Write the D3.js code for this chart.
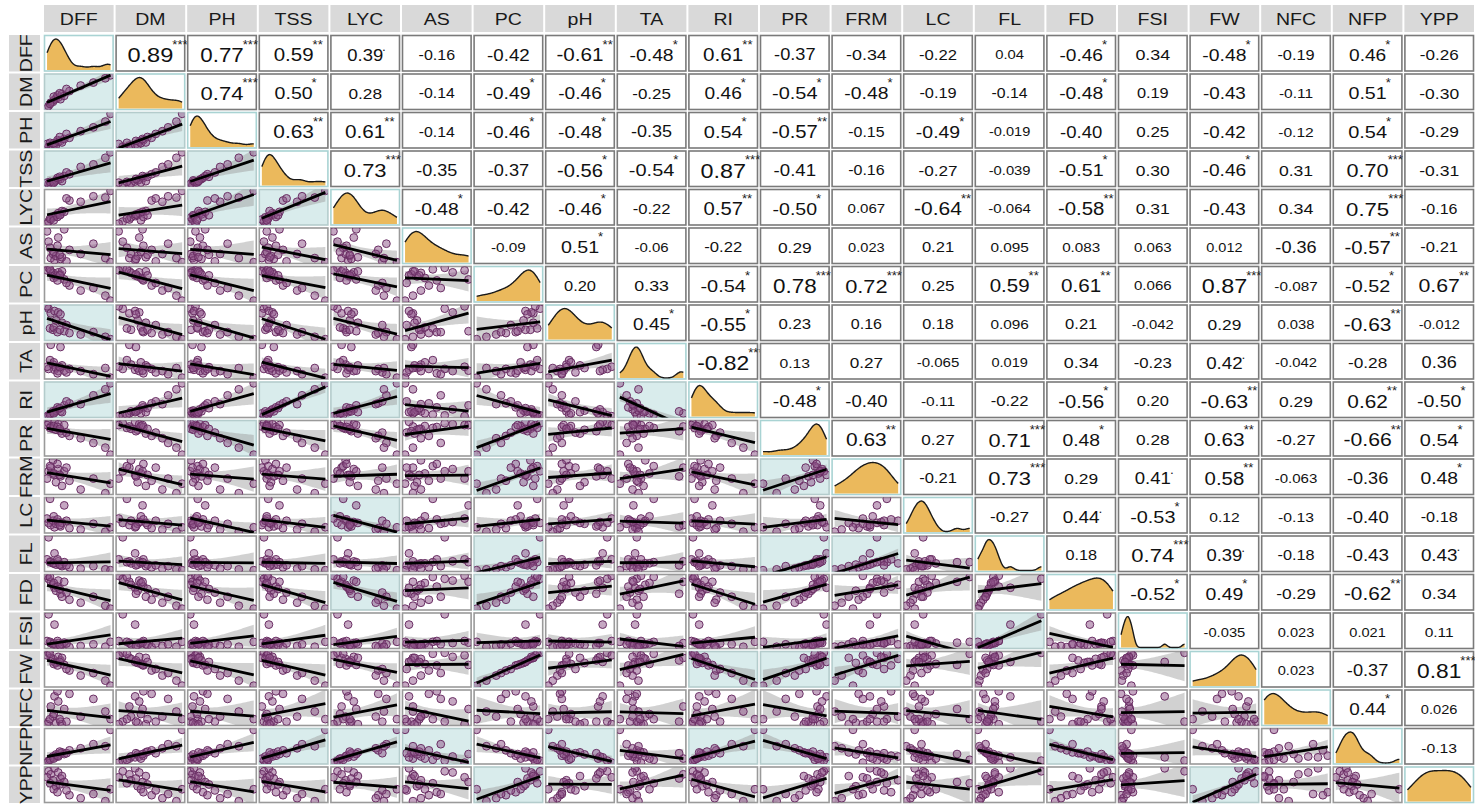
<!DOCTYPE html>
<html><head><meta charset="utf-8">
<script src="https://cdn.jsdelivr.net/npm/d3@7"></script>
<style>body{margin:0;background:#fff}svg{display:block}</style>
</head><body><svg id="c" width="1475" height="804"></svg>
<script>
// ---------- DATA ----------
const vars = ["DFF","DM","PH","TSS","LYC","AS","PC","pH","TA","RI","PR","FRM","LC","FL","FD","FSI","FW","NFC","NFP","YPP"];

// observations (relative units, estimated from the scatter panels / densities)
const DFF = [12,15,10,18,20,14,22,25,19,28,24,30,33,27,40,36,55,72,88,95];
const DM  = [20,28,15,30,35,25,38,40,42,36,45,48,44,50,55,60,68,75,85,92];
const PH  = [5,8,12,6,10,15,9,18,14,20,22,16,25,30,28,38,45,55,70,90];
const TSS = [8,5,12,10,15,14,18,20,12,22,25,16,30,28,35,40,55,62,80,95];
const LYC = [15,20,10,25,28,22,30,35,18,32,26,40,38,30,65,70,62,75,72,88];
const AS  = [60,20,85,30,15,45,25,70,35,18,50,22,90,28,40,12,30,55,20,10];
const PC  = [95,88,90,85,80,92,78,86,75,82,70,88,72,80,60,65,50,55,40,30];
const pH  = [80,70,85,35,75,38,55,72,40,68,30,50,32,35,28,45,25,30,20,15];
const TA  = [40,95,45,50,38,60,42,35,55,90,30,48,36,44,40,32,35,28,42,20];
const RI  = [10,15,8,20,18,12,22,25,15,20,30,18,35,28,40,45,38,60,75,90];
const PR  = [92,85,88,80,95,82,78,90,86,75,84,70,88,80,65,72,60,50,40,25];
const FRM = [55,60,45,70,50,62,40,58,52,48,65,35,55,50,42,60,30,45,25,38];
const LC  = [30,25,40,35,20,85,28,32,45,22,38,30,70,25,18,35,15,28,10,20];
const FL  = [90,30,35,25,50,28,22,30,25,20,35,18,28,22,15,20,12,18,10,8];
const FD  = [75,70,80,65,60,78,55,72,68,50,62,45,70,58,40,52,35,45,30,25];
const FSI = [85,15,20,12,60,18,10,15,14,8,20,12,16,10,5,14,8,12,6,18];
const FW  = [90,80,85,78,72,88,70,82,68,75,65,80,66,72,55,58,45,50,35,25];
const NFC = [30,60,25,40,80,35,28,70,45,30,90,25,55,35,85,30,40,75,50,35];
const NFP = [20,25,15,30,28,22,35,30,25,38,32,40,36,42,45,38,50,60,55,95];
const YPP = [80,75,70,65,85,60,55,78,50,68,45,72,62,58,40,48,35,42,30,50];

// correlations, upper triangle: row variable vs each following column
const corDFF = [0.89,0.77,0.59,0.39,-0.16,-0.42,-0.61,-0.48,0.61,-0.37,-0.34,-0.22,0.04,-0.46,0.34,-0.48,-0.19,0.46,-0.26];
const corDM  = [0.74,0.50,0.28,-0.14,-0.49,-0.46,-0.25,0.46,-0.54,-0.48,-0.19,-0.14,-0.48,0.19,-0.43,-0.11,0.51,-0.30];
const corPH  = [0.63,0.61,-0.14,-0.46,-0.48,-0.35,0.54,-0.57,-0.15,-0.49,-0.019,-0.40,0.25,-0.42,-0.12,0.54,-0.29];
const corTSS = [0.73,-0.35,-0.37,-0.56,-0.54,0.87,-0.41,-0.16,-0.27,-0.039,-0.51,0.30,-0.46,0.31,0.70,-0.31];
const corLYC = [-0.48,-0.42,-0.46,-0.22,0.57,-0.50,0.067,-0.64,-0.064,-0.58,0.31,-0.43,0.34,0.75,-0.16];
const corAS  = [-0.09,0.51,-0.06,-0.22,0.29,0.023,0.21,0.095,0.083,0.063,0.012,-0.36,-0.57,-0.21];
const corPC  = [0.20,0.33,-0.54,0.78,0.72,0.25,0.59,0.61,0.066,0.87,-0.087,-0.52,0.67];
const corpH  = [0.45,-0.55,0.23,0.16,0.18,0.096,0.21,-0.042,0.29,0.038,-0.63,-0.012];
const corTA  = [-0.82,0.13,0.27,-0.065,0.019,0.34,-0.23,0.42,-0.042,-0.28,0.36];
const corRI  = [-0.48,-0.40,-0.11,-0.22,-0.56,0.20,-0.63,0.29,0.62,-0.50];
const corPR  = [0.63,0.27,0.71,0.48,0.28,0.63,-0.27,-0.66,0.54];
const corFRM = [-0.21,0.73,0.29,0.41,0.58,-0.063,-0.36,0.48];
const corLC  = [-0.27,0.44,-0.53,0.12,-0.13,-0.40,-0.18];
const corFL  = [0.18,0.74,0.39,-0.18,-0.43,0.43];
const corFD  = [-0.52,0.49,-0.29,-0.62,0.34];
const corFSI = [-0.035,0.023,0.021,0.11];
const corFW  = [0.023,-0.37,0.81];
const corNFC = [0.44,0.026];
const corNFP = [-0.13];

// significance marks
const sigDFF = ["***","***","**",".","","","**","*","**","","","","","*","","*","","*",""];
const sigDM  = ["***","*","","","*","*","","*","*","*","","","*","","","","*",""];
const sigPH  = ["**","**","","*","*","","*","**","","*","","","","","","*",""];
const sigTSS = ["***","","","*","*","***","","","","","*","","*","","***",""];
const sigLYC = ["*","","*","","**","*","","**","","**","","","","***",""];
const sigAS  = ["","*","","","","","","","","","","","**",""];
const sigPC  = ["","","*","***","***","","**","**","","***","","*","**"];
const sigpH  = ["*","*","","","","","","","","","**",""];
const sigTA  = ["***","","","","","","",".","","",""];
const sigRI  = ["*","","","","*","","**","","**","*"];
const sigPR  = ["**","","***","*","","**","","**","*"];
const sigFRM = ["","***","",".","**","","","*"];
const sigLC  = ["",".","*","","","",""];
const sigFL  = ["","***",".","","","."];
const sigFD  = ["*","*","","**",""];
const sigFSI = ["","","",""];
const sigFW  = ["","","***"];
const sigNFC = ["*",""];
const sigNFP = [""];

// ---------- BUILD ----------
const obs = {DFF,DM,PH,TSS,LYC,AS,PC,pH,TA,RI,PR,FRM,LC,FL,FD,FSI,FW,NFC,NFP,YPP};
const corRows = [corDFF,corDM,corPH,corTSS,corLYC,corAS,corPC,corpH,corTA,corRI,corPR,corFRM,corLC,corFL,corFD,corFSI,corFW,corNFC,corNFP];
const sigRows = [sigDFF,sigDM,sigPH,sigTSS,sigLYC,sigAS,sigPC,sigpH,sigTA,sigRI,sigPR,sigFRM,sigLC,sigFL,sigFD,sigFSI,sigFW,sigNFC,sigNFP];
function pair(i,j){ if(i>j){const t=i;i=j;j=t;} return {r:corRows[i][j-i-1], s:sigRows[i][j-i-1]}; }
function fmt(r){ let s=r.toPrecision(2); if(Math.abs(r)<0.1) s=String(+s); return s; }

const W=1475,H=804, N=vars.length;
const gx0=43, gy0=34, cw=(W-gx0)/N, rh=(H-gy0)/N;
const svg=d3.select("#c");
const FONT="'Liberation Sans', Arial, sans-serif";
const SX=1.15; // horizontal stretch of the text in the picture

// strips
vars.forEach((v,j)=>{
  const x=gx0+j*cw+1;
  svg.append("rect").attr("x",x).attr("y",5).attr("width",cw-2).attr("height",27).attr("fill","#d9d9d9");
  svg.append("text").attr("transform",`translate(${x+(cw-2)/2},${24.5}) scale(${SX},1)`)
    .attr("text-anchor","middle").attr("font-family",FONT).attr("font-size",17).attr("fill","#1a1a1a").text(v);
});
vars.forEach((v,i)=>{
  const y=gy0+i*rh+1;
  svg.append("rect").attr("x",9).attr("y",y).attr("width",31).attr("height",rh-2).attr("fill","#d9d9d9");
  svg.append("text").attr("transform",`translate(${31.5},${y+(rh-2)/2}) rotate(-90) scale(${SX},1)`)
    .attr("text-anchor","middle").attr("font-family",FONT).attr("font-size",17).attr("fill","#1a1a1a").text(v);
});

const defs=svg.append("defs");
const stats={};
vars.forEach(v=>{const a=obs[v]; stats[v]={mean:d3.mean(a), sd:d3.deviation(a), min:d3.min(a), max:d3.max(a)};});
const n=DFF.length, tcrit=2.101;

function xs(v,x,w){const s=stats[v],e=(s.max-s.min)*0.04;return d3.scaleLinear().domain([s.min-e,s.max+e]).range([x,x+w]);}
function ys(v,y,h){const s=stats[v],e=(s.max-s.min)*0.04;return d3.scaleLinear().domain([s.min-e,s.max+e]).range([y+h,y]);}

for(let i=0;i<N;i++){
  for(let j=0;j<N;j++){
    const x=gx0+j*cw+1.5, y=gy0+i*rh+1.5, w=cw-3, h=rh-3;
    const g=svg.append("g");
    const cid=`cp${i}_${j}`;
    defs.append("clipPath").attr("id",cid).append("rect").attr("x",x).attr("y",y).attr("width",w).attr("height",h);
    if(i<j){
      const {r,s}=pair(i,j);
      g.append("rect").attr("x",x).attr("y",y).attr("width",w).attr("height",h).attr("fill","#fff").attr("stroke","#7a7a7a").attr("stroke-width",1.6);
      const fs=12.5+9*Math.abs(r);
      const cx=x+w/2, cy=y+h/2+fs*0.36+1.5;
      const t=g.append("text").attr("transform",`translate(${cx},${cy}) scale(${SX},1)`).attr("text-anchor","middle")
        .attr("font-family",FONT).attr("font-size",fs).attr("fill","#111").text(fmt(r));
      const tw=t.node().getComputedTextLength()*SX;
      if(s){
        const isDot=s===".";
        const by=isDot? cy-0.716*fs+2 : y+13;
        g.append("text").attr("transform",`translate(${cx+tw/2-1},${by}) scale(1.05,1)`)
          .attr("text-anchor","start").attr("font-family",FONT).attr("font-size",isDot?13:12.5).attr("fill","#222").text(s);
      }
    } else if(i===j){
      const v=vars[i], a=obs[v], st=stats[v];
      g.append("rect").attr("x",x).attr("y",y).attr("width",w).attr("height",h).attr("fill","#fff").attr("stroke","#a9d3d3").attr("stroke-width",1.6);
      const sorted=a.slice().sort(d3.ascending);
      const iqr=d3.quantile(sorted,0.75)-d3.quantile(sorted,0.25);
      const bw=0.9*Math.min(st.sd, iqr/1.34)*Math.pow(n,-0.2);
      const grid=d3.range(0,101).map(k=>st.min+(st.max-st.min)*k/100);
      const dens=grid.map(g0=>[g0, d3.mean(a,d=>Math.exp(-0.5*((g0-d)/bw)**2))/(bw*Math.sqrt(2*Math.PI))]);
      const X=xs(v,x,w);
      const Y=d3.scaleLinear().domain([0,d3.max(dens,d=>d[1])*1.05]).range([y+h-1,y+2]);
      g.append("path").attr("clip-path",`url(#${cid})`).datum(dens).attr("fill","#ebb95c")
        .attr("d",d3.area().x(d=>X(d[0])).y0(y+h-1).y1(d=>Y(d[1])).curve(d3.curveBasis));
      g.append("path").attr("clip-path",`url(#${cid})`).datum(dens).attr("fill","none").attr("stroke","#1a1a1a").attr("stroke-width",1.4)
        .attr("d",d3.line().x(d=>X(d[0])).y(d=>Y(d[1])).curve(d3.curveBasis));
    } else {
      const vx=vars[j], vy=vars[i];
      const {r,s}=pair(i,j);
      const teal=s.indexOf("**")>=0;
      g.append("rect").attr("x",x).attr("y",y).attr("width",w).attr("height",h)
        .attr("fill",teal?"#d9ecec":"#fff").attr("stroke",teal?"#b4cccc":"#9a9a9a").attr("stroke-width",1.6);
      const X=xs(vx,x,w), Y=ys(vy,y,h);
      const sx=stats[vx], sy=stats[vy];
      const gc=g.append("g").attr("clip-path",`url(#${cid})`);
      const slope=r*sy.sd/sx.sd;
      const Sxx=sx.sd*sx.sd*(n-1);
      const se=sy.sd*Math.sqrt((1-r*r)*(n-1)/(n-2));
      const xg=d3.range(0,41).map(k=>sx.min+(sx.max-sx.min)*k/40);
      const band=xg.map(xv=>{const f=sy.mean+slope*(xv-sx.mean);const e=tcrit*se*Math.sqrt(1/n+(xv-sx.mean)**2/Sxx);return [xv,f-e,f+e];});
      gc.append("path").datum(band).attr("fill","#9a9a9a").attr("fill-opacity",0.45)
        .attr("d",d3.area().x(d=>X(d[0])).y0(d=>Y(d[1])).y1(d=>Y(d[2])));
      gc.selectAll("circle").data(obs[vx].map((xv,k)=>[xv,obs[vy][k]])).join("circle")
        .attr("cx",d=>X(d[0])).attr("cy",d=>Y(d[1])).attr("r",3.9)
        .attr("fill","#8c4f86").attr("fill-opacity",0.5).attr("stroke","#6a2f64").attr("stroke-width",1);
      gc.append("line").attr("x1",X(sx.min)).attr("x2",X(sx.max))
        .attr("y1",Y(sy.mean+slope*(sx.min-sx.mean))).attr("y2",Y(sy.mean+slope*(sx.max-sx.mean)))
        .attr("stroke","#000").attr("stroke-width",2.8);
    }
  }
}
</script></body></html>
